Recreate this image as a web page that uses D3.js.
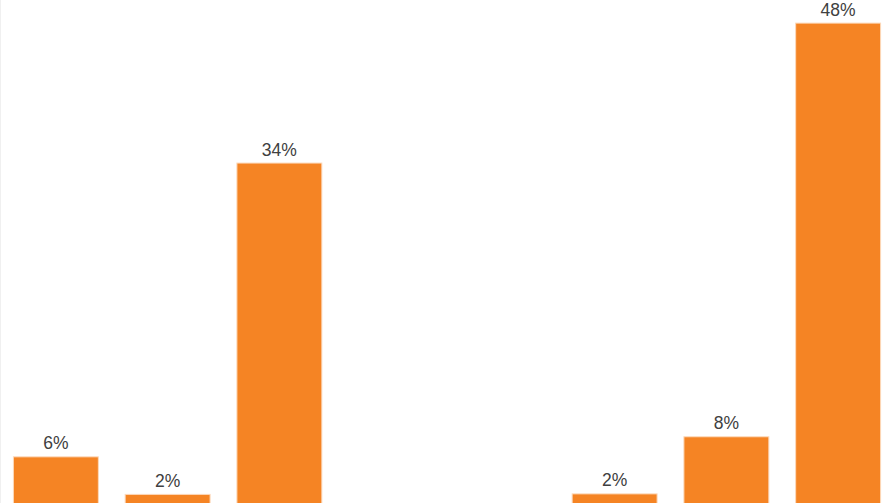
<!DOCTYPE html>
<html>
<head>
<meta charset="utf-8">
<script src="https://cdn.jsdelivr.net/npm/d3@7"></script>
<style>
  html, body { margin: 0; padding: 0; background: #fff; overflow: hidden; }
</style>
</head>
<body>
<div id="canvas"></div>
<script>
// categories (axis labels are cropped out of the picture)
const categories = ["c1", "c2", "c3", "c4", "c5", "c6", "c7", "c8"];
// share of respondents, % (slots 4 and 5 are empty)
const values = [5.75, 2.1, 34.3, null, null, 2.15, 7.7, 47.9];

const canvas = d3.select("#canvas");

const createBarGraph = () => {
  const width = 894;
  const height = 503;

  const svg = canvas.append("svg")
    .attr("width", width)
    .attr("height", height);

  // the baseline sits just below the visible area
  const x = d3.scaleBand()
    .domain(categories)
    .range([0, width])
    .paddingInner(0.24)
    .paddingOuter(0.12);

  const y = d3.scaleLinear().domain([0, 50]).range([516, 1.5]);

  // faint frame line on the left edge
  svg.append("line")
    .attr("x1", 0.5).attr("x2", 0.5)
    .attr("y1", 0).attr("y2", height)
    .style("stroke", "#f0f0f0");

  const data = categories
    .map((c, i) => ({ name: c, value: values[i] }))
    .filter((d) => d.value != null);

  svg.selectAll("rect")
    .data(data)
    .enter()
    .append("rect")
    .attr("x", (d) => x(d.name))
    .attr("y", (d) => y(d.value))
    .attr("width", x.bandwidth())
    .attr("height", (d) => y(0) - y(d.value))
    .style("fill", "#f58424")
    .style("stroke", "#fcd9bb")
    .style("stroke-width", 1);

  svg.selectAll("text.label")
    .data(data)
    .enter()
    .append("text")
    .attr("class", "label")
    .attr("x", (d) => x(d.name) + x.bandwidth() / 2)
    .attr("y", (d) => y(d.value) - 7.5)
    .attr("text-anchor", "middle")
    .style("font-family", "'Liberation Sans', Arial, sans-serif")
    .style("font-size", "17.5px")
    .style("fill", "#404040")
    .text((d) => Math.round(d.value) + "%");
};

createBarGraph();
</script>
</body>
</html>
